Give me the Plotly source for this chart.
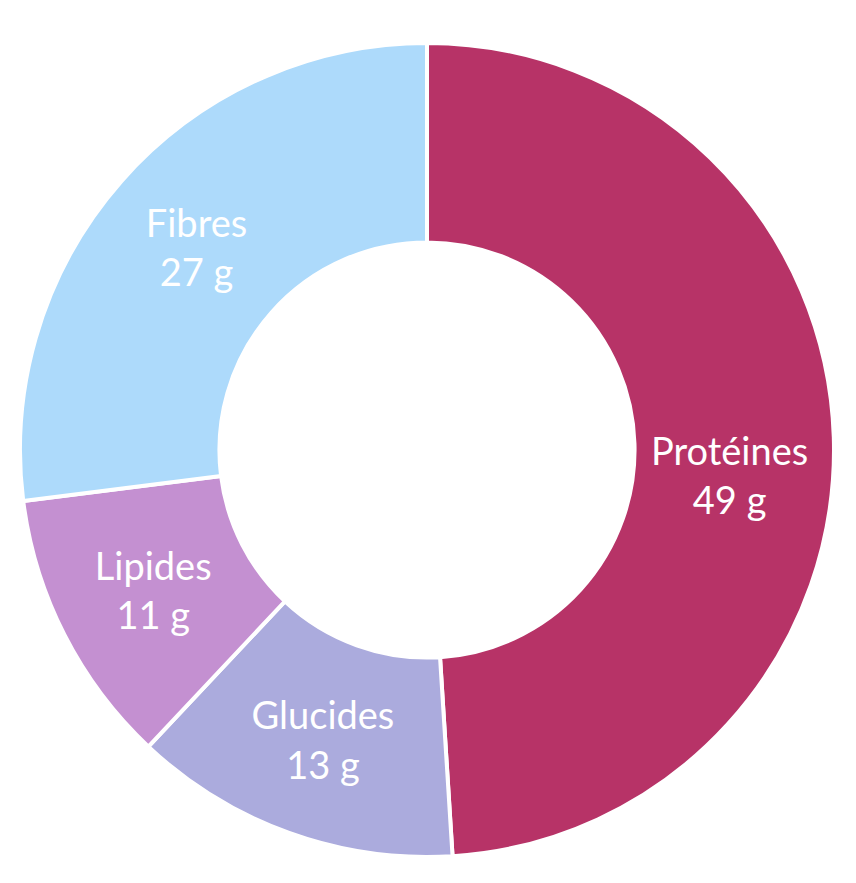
import plotly.graph_objects as go

# Macronutrient breakdown (grams)
labels = ["Protéines", "Glucides", "Lipides", "Fibres"]
values = [49, 13, 11, 27]
colors = ["#B73367", "#ABABDD", "#C490D1", "#ADDAFB"]

# the big slice's label sits a bit lower in the original, add a blank line on top
templates = ["%{label}<br>%{value} g"] * len(labels)
templates[0] = "\u00a0<br>" + templates[0]

fig = go.Figure(go.Pie(
    labels=labels,
    values=values,
    hole=0.51,
    sort=False,
    direction="clockwise",
    rotation=0,
    marker=dict(colors=colors, line=dict(color="white", width=4)),
    texttemplate=templates,
    textposition="inside",
    insidetextorientation="horizontal",
    textfont=dict(family="Lato", size=38, color="white"),
    hoverinfo="label+value",
    showlegend=False,
))

fig.update_layout(
    width=856,
    height=883,
    margin=dict(l=12, r=30, t=35, b=34),
    paper_bgcolor="white",
    uniformtext=dict(minsize=38, mode="show"),
)

fig.write_html("out.html")
